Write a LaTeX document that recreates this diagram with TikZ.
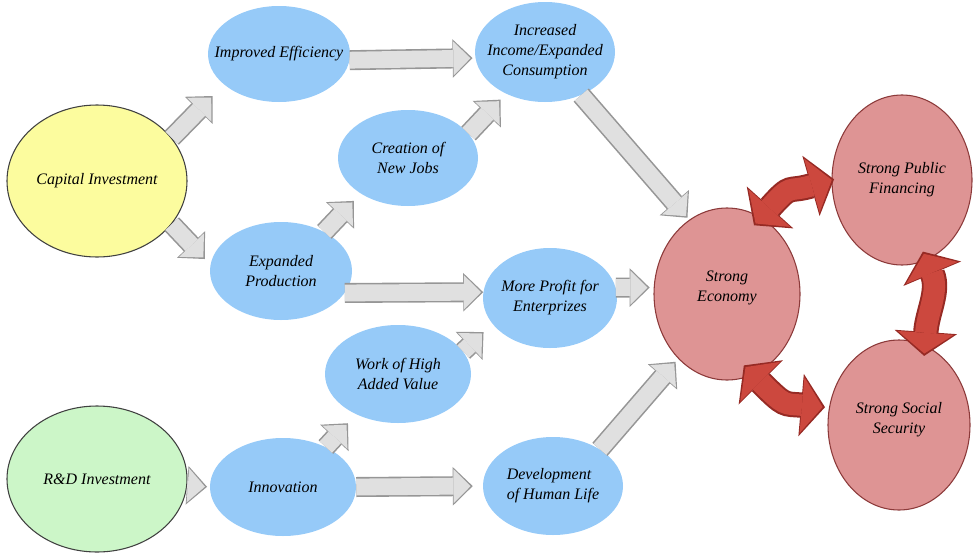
\documentclass[tikz,border=0pt]{standalone}
\usepackage{fontspec}
\setmainfont{Liberation Serif}
\usetikzlibrary{shapes.geometric,arrows.meta}
\definecolor{bubbleblue}{RGB}{150,202,248}
\definecolor{capyellow}{RGB}{252,252,158}
\definecolor{rdgreen}{RGB}{204,246,200}
\definecolor{pillarred}{RGB}{222,148,148}
\definecolor{pillaredge}{RGB}{140,58,58}
\definecolor{linkred}{RGB}{204,72,62}
\definecolor{linkedge}{RGB}{150,42,36}
\definecolor{flowfill}{RGB}{224,224,224}
\definecolor{flowedge}{RGB}{150,150,150}
\begin{document}
\begin{tikzpicture}
    [
    x=0.75pt, y=-0.75pt,
    every node/.style={font=\fontsize{12}{15}\selectfont\itshape, align=center},
    bubble/.style 2 args={ellipse, fill=bubbleblue, inner xsep=-14pt, inner ysep=0pt, minimum width=#1, minimum height=#2},
    investment/.style 2 args={ellipse, draw=black!75, line width=0.8pt, fill=#1, inner xsep=-14pt, inner ysep=0pt, minimum width=135pt, minimum height=#2},
    pillar/.style 2 args={ellipse, draw=pillaredge, line width=0.8pt, fill=pillarred, inner xsep=-14pt, inner ysep=0pt, minimum width=#1, minimum height=#2},
    flow/.style={preaction={draw=flowedge, line width=15pt, -{Triangle[length=15pt,width=29pt,line width=0pt]}, shorten >=#1},
      draw=flowfill, line width=12.6pt, -{Triangle[length=12.8pt,width=25.6pt,line width=0pt]}, shorten >=#1+1.6pt},
    flow/.default=0pt,
    link/.style 2 args={preaction={draw=linkedge, line width=19pt, {Triangle[length=18pt,width=47pt,line width=0pt]}-{Triangle[length=18pt,width=47pt,line width=0pt]}, shorten <=#1, shorten >=#2},
      draw=linkred, line width=16pt, {Triangle[length=15.5pt,width=42pt,line width=0pt]}-{Triangle[length=15.5pt,width=42pt,line width=0pt]}, shorten <=#1+1.8pt, shorten >=#2+1.8pt}
    ]
    \useasboundingbox (0,0) rectangle (974,553);
    \node (ci) at (97,181) [investment={capyellow}{114pt}] {Capital Investment};
    \node (rd) at (97,479) [investment={rdgreen}{109.5pt}] {R\&D Investment};
    \node (ie) at (279,54) [bubble={106.5pt}{72pt}] {Improved Efficiency};
    \node (cnj) at (408,158) [bubble={105pt}{72pt}] {Creation of\\New Jobs};
    \node (ep) at (281,271) [bubble={106.5pt}{73.5pt}] {Expanded\\Production};
    \node (wha) at (398,374) [bubble={109.5pt}{73.5pt}] {Work of High\\Added Value};
    \node (inn) at (283,487) [bubble={109.5pt}{73.5pt}] {Innovation};
    \node (iiec) at (545,52) [bubble={105pt}{75pt}] {Increased\\Income/Expanded\\Consumption};
    \node (mpe) at (550,298) [bubble={100.5pt}{75pt}] {More Profit for\\Enterprizes};
    \node (dhl) at (553,486) [bubble={105pt}{73.5pt}, align=left] {Development\\of Human Life};
    \node (se) at (727,294) [pillar={109.5pt}{129pt}] {Strong\\Economy\\[-3pt]};
    \node (spf) at (902,180) [pillar={105pt}{127.5pt}] {Strong Public\\Financing};
    \node (sss) at (899,425) [pillar={106.5pt}{127.5pt}] {Strong Social\\Security\\[-4.5pt]};
    \draw [flow=12pt] (ci.30) to (ie.209);
    \draw [flow=6pt] (ci.-30) to (ep.175);
    \draw [flow=2pt] (ie.-5) to (iiec.185);
    \draw [flow=7.5pt] (ep.42) to (cnj.217);
    \draw [flow=6pt] (cnj.22) to (iiec.227);
    \draw [flow] (ep.-19) to (mpe.175);
    \draw [flow=9pt] (wha.19) to (mpe.204);
    \draw [flow=9pt] (inn.43) to (wha.224);
    \draw [flow=2pt] (rd.-4) to (inn.180);
    \draw [flow=7.5pt] (inn.east) to (dhl.west);
    \draw [flow=2pt] (iiec.-50) to (se.117);
    \draw [flow=3pt] (mpe.9) to (se.175);
    \draw [flow=3pt] (dhl.38) to (se.233);
    \draw [link={-8pt}{-2pt}] (se.66) to [out=48, in=196, looseness=1.5] (spf.180);
    \draw [link={-7pt}{-8pt}] (spf.-73) to [out=-67, in=86] (sss.72);
    \draw [link={-10pt}{3pt}] (se.-72) to [out=-45, in=175, looseness=1.4] (sss.166);
  \end{tikzpicture}
\end{document}
